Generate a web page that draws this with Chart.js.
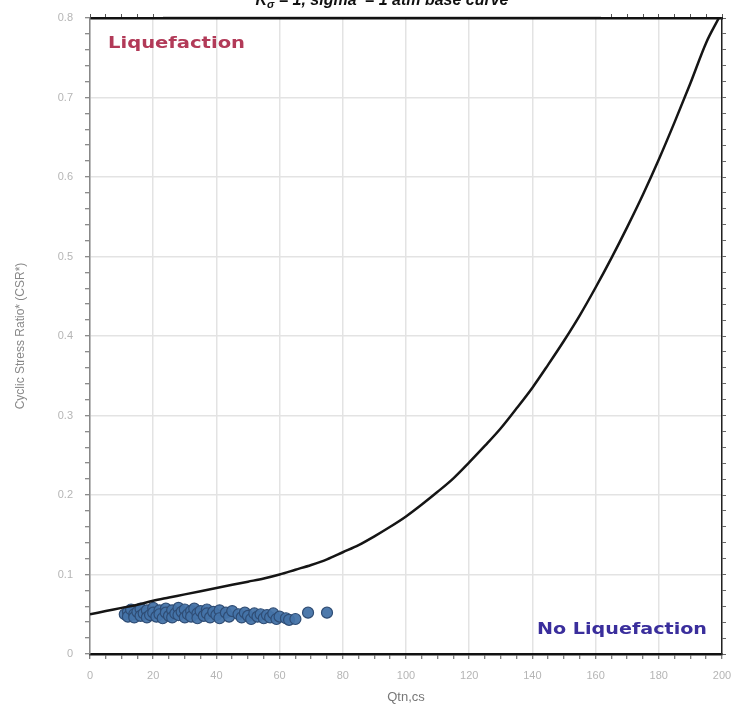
<!DOCTYPE html>
<html><head><meta charset="utf-8">
<script src="https://cdn.jsdelivr.net/npm/chart.js@4.4.0/dist/chart.umd.min.js"></script>
<style>html,body{margin:0;padding:0;background:#fff;}#wrap{width:736px;height:711px;position:relative;overflow:hidden;}</style>
</head><body><div id="wrap"><canvas id="c" width="736" height="711"></canvas></div>
<script>
// Base curve
const curveQ   = [0,5,10,15,20,25,30,35,40,45,50,55,60,65,70,75,80,85,90,95,100,105,110,115,120,125,130,135,140,145,150,155,160,165,170,175,180,185,190,195,199];
const curveCRR = [0.050,0.054,0.058,0.062,0.067,0.071,0.075,0.079,0.083,0.087,0.091,0.095,0.100,0.106,0.112,0.119,0.128,0.137,0.148,0.160,0.173,0.188,0.204,0.221,0.241,0.262,0.284,0.309,0.335,0.364,0.394,0.426,0.461,0.498,0.537,0.578,0.622,0.669,0.718,0.769,0.800];
// Case points
const caseQ   = [11,12,12,13,14,14,15,16,16,17,18,18,19,20,20,21,22,22,23,24,24,25,26,26,27,28,28,29,30,30,31,32,32,33,34,34,35,36,37,37,38,39,40,41,41,43,44,45,47,48,49,50,51,52,53,54,55,56,57,58,59,60,62,63,65,69,75];
const caseCSR = [0.050,0.053,0.047,0.056,0.050,0.046,0.053,0.057,0.048,0.051,0.055,0.046,0.049,0.058,0.052,0.047,0.055,0.050,0.045,0.057,0.052,0.048,0.055,0.046,0.051,0.058,0.049,0.053,0.056,0.046,0.050,0.054,0.047,0.057,0.051,0.045,0.054,0.048,0.056,0.051,0.046,0.053,0.049,0.055,0.045,0.052,0.047,0.054,0.050,0.046,0.052,0.048,0.044,0.051,0.047,0.050,0.045,0.049,0.046,0.051,0.044,0.047,0.045,0.043,0.044,0.052,0.052];
const xMajor = 20, xMinor = 5, yMajor = 0.1, yMinor = 0.02;
const titleText = ["K", "σ", " = 1, sigma' = 1 atm base curve"];
const xTitle = "Qtn,cs";
const yTitle = "Cyclic Stress Ratio* (CSR*)";
const zoneTop = "Liquefaction";
const zoneBottom = "No Liquefaction";

const curvePts = curveQ.map((q,i)=>({x:q,y:curveCRR[i]}));
const casePts = caseQ.map((q,i)=>({x:q,y:caseCSR[i]}));

const isMajX = v => Math.abs(v/xMajor - Math.round(v/xMajor)) < 1e-6;
const isMajY = v => Math.abs(v/yMajor - Math.round(v/yMajor)) < 1e-6;
const gridX = c => (c.tick && isMajX(c.tick.value)) ? '#e3e3e3' : 'rgba(0,0,0,0)';
const gridY = c => (c.tick && isMajY(c.tick.value)) ? '#e3e3e3' : 'rgba(0,0,0,0)';
const tickFont = {family:'Liberation Sans, Arial, sans-serif', size:11};

function fitText(ctx, txt, x, y, width){
  const w = ctx.measureText(txt).width;
  ctx.save();
  ctx.translate(x, y);
  ctx.scale(width / w, 1);
  ctx.fillText(txt, 0, 0);
  ctx.restore();
}

const notes = {
  id:'notes',
  afterDraw(chart){
    const {ctx, chartArea:a} = chart;
    ctx.save();
    ctx.textBaseline = 'middle';
    ctx.font = 'bold 16px "DejaVu Sans", sans-serif';
    ctx.fillStyle = '#b23a58';
    fitText(ctx, zoneTop, a.left+18, a.top+26, 137);
    ctx.fillStyle = '#3a2e9c';
    fitText(ctx, zoneBottom, a.right-185, a.bottom-24, 170);
    // title box
    ctx.fillStyle = '#fff';
    ctx.fillRect(163, 0, 438, 16);
    ctx.strokeStyle = '#cfcfcf'; ctx.lineWidth = 1;
    ctx.beginPath(); ctx.moveTo(163,16.5); ctx.lineTo(601,16.5); ctx.stroke();
    ctx.fillStyle = '#111';
    ctx.textBaseline = 'alphabetic';
    const f1 = 'italic bold 16px "Liberation Sans", Arial, sans-serif';
    const f2 = 'italic bold 11px "Liberation Sans", Arial, sans-serif';
    ctx.font = f1; const w1 = ctx.measureText(titleText[0]).width, w3 = ctx.measureText(titleText[2]).width;
    ctx.font = f2; const w2 = ctx.measureText(titleText[1]).width;
    let x = 382 - (w1+w2+w3)/2; const base = 5;
    ctx.font = f1; ctx.fillText(titleText[0], x, base); x += w1;
    ctx.font = f2; ctx.fillText(titleText[1], x, base+3); x += w2;
    ctx.font = f1; ctx.fillText(titleText[2], x, base);
    ctx.restore();
  }
};

new Chart(document.getElementById('c'), {
  type:'scatter',
  data:{datasets:[
    {label:'Base curve', data:curvePts, showLine:true, borderColor:'#151515', borderWidth:2.5, pointRadius:0, cubicInterpolationMode:'monotone', order:0},
    {label:'Cases', data:casePts, pointRadius:5.5, backgroundColor:'rgba(68,115,168,0.95)', borderColor:'#2f4d75', borderWidth:1.2, order:1}
  ]},
  options:{
    responsive:false, animation:false,
    layout:{padding:0},
    plugins:{legend:{display:false}, tooltip:{enabled:false}},
    scales:{
      x:{type:'linear', position:'bottom', min:0, max:200,
        ticks:{stepSize:xMinor, autoSkip:false, maxRotation:0, color:'#b5b5b5', font:tickFont, padding:10,
          callback:v=> isMajX(v) ? String(Math.round(v)) : ''},
        grid:{color:gridX, lineWidth:1.5, tickColor:'#555', tickLength:5, tickWidth:1},
        border:{color:'#111', width:2.5},
        title:{display:true, text:xTitle, color:'#777', font:{family:'Liberation Sans, Arial, sans-serif', size:13}, padding:{top:0,bottom:6}},
        afterFit:s=>{s.height=57; s.paddingLeft=0; s.paddingRight=0;}
      },
      xTop:{type:'linear', position:'top', min:0, max:200,
        ticks:{stepSize:xMinor, display:false},
        grid:{drawOnChartArea:false, tickColor:'#555', tickLength:4},
        border:{color:'#111', width:2.5},
        afterFit:s=>{s.height=18; s.paddingLeft=0; s.paddingRight=0;}
      },
      y:{type:'linear', position:'left', min:0, max:0.8,
        ticks:{stepSize:yMinor, autoSkip:false, color:'#b5b5b5', font:tickFont, padding:12,
          callback:v=> isMajY(v) ? (Math.abs(v)<1e-9 ? '0' : v.toFixed(1)) : ''},
        grid:{color:gridY, lineWidth:1.5, tickColor:'#666', tickLength:5, tickWidth:1},
        border:{color:'#888', width:1.5},
        title:{display:true, text:yTitle, color:'#888', font:{family:'Liberation Sans, Arial, sans-serif', size:12}, padding:{top:13,bottom:0}},
        afterFit:s=>{s.width=90; s.paddingTop=0; s.paddingBottom=0;}
      },
      yRight:{type:'linear', position:'right', min:0, max:0.8,
        ticks:{stepSize:yMinor, display:false},
        grid:{drawOnChartArea:false, tickColor:'#666', tickLength:4},
        border:{color:'#222', width:1.5},
        afterFit:s=>{s.width=14; s.paddingTop=0; s.paddingBottom=0;}
      }
    }
  },
  plugins:[notes]
});
</script></body></html>
